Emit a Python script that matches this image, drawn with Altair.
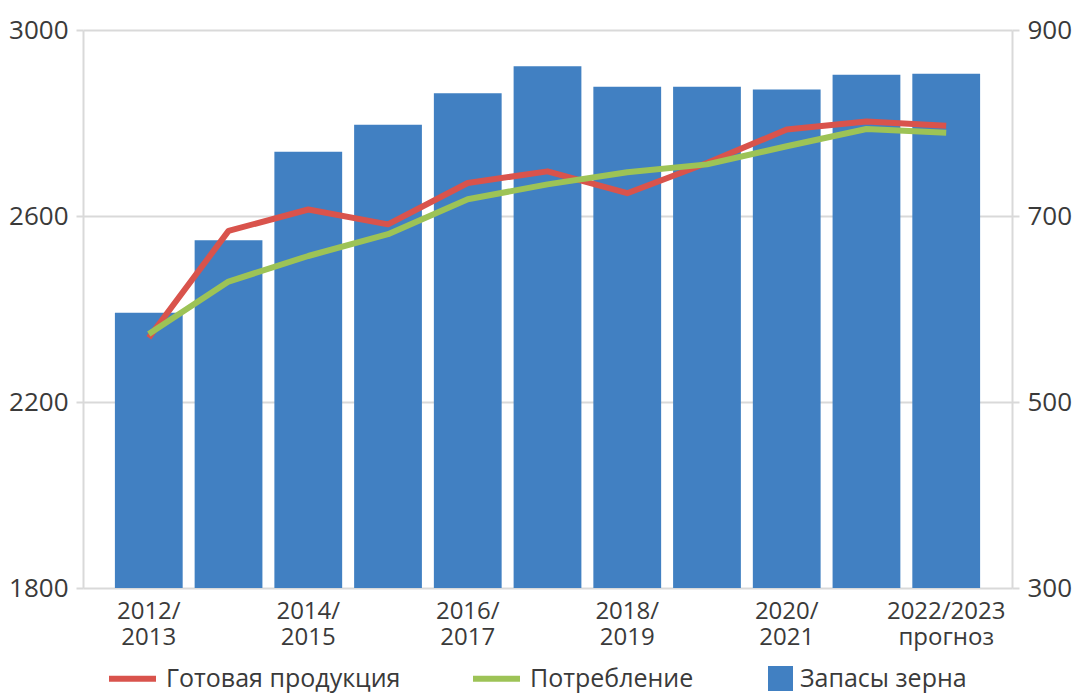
import altair as alt
import pandas as pd

FONT = "Open Sans"
TEXT = "#3a3a3a"
GRID = "#d9d9d9"

seasons = ["2012/2013", "2013/2014", "2014/2015", "2015/2016", "2016/2017", "2017/2018",
           "2018/2019", "2019/2020", "2020/2021", "2021/2022", "2022/2023"]
tick_labels = ["2012/|2013", "", "2014/|2015", "", "2016/|2017", "", "2018/|2019", "",
               "2020/|2021", "", "2022/2023|прогноз"]
production = [2338, 2568, 2614, 2582, 2671, 2696, 2649, 2714, 2786, 2803, 2794]
consumption = [2346, 2459, 2514, 2561, 2636, 2668, 2694, 2711, 2750, 2787, 2779]
stocks = [596, 674, 769, 798, 832, 861, 839, 839, 836, 852, 853]
line_names = ["Готовая продукция", "Потребление"]
line_colors = ["#d9534c", "#9dc356"]
bar_name = "Запасы зерна"
bar_color = "#4180c2"
left_ticks = [1800, 2200, 2600, 3000]
right_ticks = [300, 500, 700, 900]

lines_df = pd.DataFrame({
    "season": seasons * 2,
    "series": [line_names[0]] * len(seasons) + [line_names[1]] * len(seasons),
    "value": production + consumption,
})
bars_df = pd.DataFrame({"season": seasons, "series": bar_name, "value": stocks})

parts = [f"datum.value == '{s}' ? split('{l}', '|')" for s, l in zip(seasons, tick_labels) if l]
label_expr = " : ".join(parts) + " : ''"

x_enc = alt.X(
    "season:N", sort=seasons,
    scale=alt.Scale(paddingInner=0.15, paddingOuter=0.4),
    axis=alt.Axis(title=None, labelAngle=0, labelExpr=label_expr, ticks=False, domain=False,
                  labelFont=FONT, labelFontSize=24, labelColor=TEXT, labelLineHeight=26,
                  labelPadding=11, labelBaseline="top"),
)

legend_common = dict(title=None, orient="none", direction="horizontal",
                     labelFont=FONT, labelFontSize=25, labelColor=TEXT, labelOffset=7,
                     labelLimit=400, columnPadding=60, symbolOpacity=1)

axis_common = dict(title=None, labelFont=FONT, labelFontSize=26, labelColor=TEXT, format="d",
                   domainColor=GRID, domainWidth=2, tickColor=GRID, tickWidth=2, tickSize=7,
                   labelPadding=8)

bars = alt.Chart(bars_df).mark_bar(clip=True).encode(
    x=x_enc,
    y=alt.Y("value:Q", scale=alt.Scale(domain=[300, 900], nice=False, zero=False),
            axis=alt.Axis(orient="right", values=right_ticks, grid=False, **axis_common)),
    fill=alt.Fill("series:N", scale=alt.Scale(domain=[bar_name], range=[bar_color]),
                  legend=alt.Legend(legendX=685, legendY=636, symbolType="square",
                                    symbolSize=625, symbolStrokeWidth=0, **legend_common)),
)

lines = alt.Chart(lines_df).mark_line(strokeWidth=6, strokeJoin="round").encode(
    x=x_enc,
    y=alt.Y("value:Q", scale=alt.Scale(domain=[1800, 3000], nice=False, zero=False),
            axis=alt.Axis(orient="left", values=left_ticks, grid=True, gridColor=GRID,
                          gridWidth=2, **axis_common)),
    stroke=alt.Stroke("series:N", scale=alt.Scale(domain=line_names, range=line_colors),
                      legend=alt.Legend(legendX=23, legendY=622, symbolType="stroke",
                                        symbolSize=2209, symbolStrokeWidth=6, **legend_common)),
)

chart = alt.layer(bars, lines).resolve_scale(y="independent").properties(
    width=929, height=558,
    padding={"left": 83, "top": 30, "right": 63, "bottom": 105},
    autosize=alt.AutoSizeParams(type="none"),
    background="white",
).configure_view(stroke=None)

chart.save("out.html", embed_options={"renderer": "svg", "actions": False})
